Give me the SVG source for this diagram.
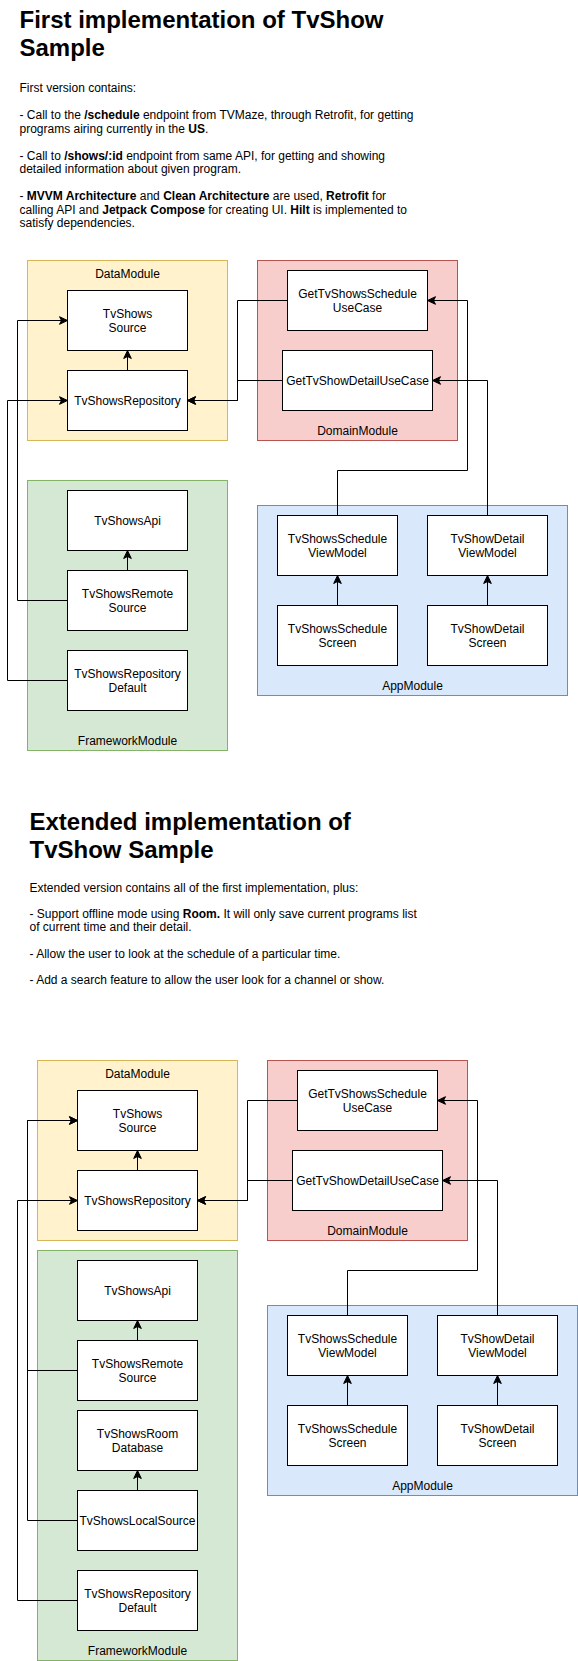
<svg xmlns="http://www.w3.org/2000/svg" width="578" height="1661" viewBox="0 0 578 1661">
<defs>
<marker id="arr" markerUnits="userSpaceOnUse" markerWidth="12" markerHeight="12" viewBox="-10 -6 12 12" refX="0" refY="0" orient="auto">
<path d="M0,0 L-8,-3.8 L-6,0 L-8,3.8 Z" fill="#000" stroke="#000" stroke-width="1" stroke-linejoin="miter"/>
</marker>
</defs>
<style>
text{font-family:"Liberation Sans",Arial,Helvetica,sans-serif;fill:#000}
.t{font-size:24px;font-weight:bold}
.b{font-size:12px}
.bb{font-weight:bold}
.n{font-size:12px;text-anchor:middle}
.node{fill:#fff;stroke:#000;stroke-width:1}
.data{fill:#fff2cc;stroke:#d6b656}
.dom{fill:#f8cecc;stroke:#b85450}
.fw{fill:#d5e8d4;stroke:#82b366}
.app{fill:#dae8fc;stroke:#6c8ebf}
.c{fill:none;stroke:#000;stroke-width:1;marker-end:url(#arr)}
</style>

<g id="text1">
<text class="t" x="19.5" y="27.5">First implementation of TvShow</text>
<text class="t" x="19.5" y="56.3">Sample</text>
<text class="b" x="19.5" y="92.3">First version contains:</text>
<text class="b" x="19.5" y="119.3">- Call to the <tspan class="bb">/schedule</tspan> endpoint from TVMaze, through Retrofit, for getting</text>
<text class="b" x="19.5" y="132.8">programs airing currently in the <tspan class="bb">US</tspan>.</text>
<text class="b" x="19.5" y="159.8">- Call to <tspan class="bb">/shows/:id</tspan> endpoint from same API, for getting and showing</text>
<text class="b" x="19.5" y="173.3">detailed information about given program.</text>
<text class="b" x="19.5" y="200.3">- <tspan class="bb">MVVM Architecture</tspan> and <tspan class="bb">Clean Architecture</tspan> are used, <tspan class="bb">Retrofit</tspan> for</text>
<text class="b" x="19.5" y="213.8">calling API and <tspan class="bb">Jetpack Compose</tspan> for creating UI. <tspan class="bb">Hilt</tspan> is implemented to</text>
<text class="b" x="19.5" y="227.3">satisfy dependencies.</text>
</g>

<g id="dataModule1"><rect class="data" x="27.5" y="260.5" width="200" height="180"/><text class="n" x="127.5" y="278.3">DataModule</text></g>
<g id="domainModule1"><rect class="dom" x="257.5" y="260.5" width="200" height="180"/><text class="n" x="357.5" y="435.3">DomainModule</text></g>
<g id="frameworkModule1"><rect class="fw" x="27.5" y="480.5" width="200" height="270"/><text class="n" x="127.5" y="745">FrameworkModule</text></g>
<g id="appModule1"><rect class="app" x="257.5" y="505.5" width="310" height="190"/><text class="n" x="412.5" y="690.3">AppModule</text></g>

<g id="tvShowsSource1"><rect class="node" x="67.5" y="290.5" width="120" height="60"/><text class="n" x="127.5" y="317.6">TvShows</text><text class="n" x="127.5" y="332">Source</text></g>
<g id="tvShowsRepository1"><rect class="node" x="67.5" y="370.5" width="120" height="60"/><text class="n" x="127.5" y="404.7">TvShowsRepository</text></g>
<g id="scheduleUseCase1"><rect class="node" x="287.5" y="270.5" width="140" height="60"/><text class="n" x="357.5" y="297.6">GetTvShowsSchedule</text><text class="n" x="357.5" y="312">UseCase</text></g>
<g id="detailUseCase1"><rect class="node" x="282.5" y="350.5" width="150" height="60"/><text class="n" x="357.5" y="384.7">GetTvShowDetailUseCase</text></g>
<g id="tvShowsApi1"><rect class="node" x="67.5" y="490.5" width="120" height="60"/><text class="n" x="127.5" y="524.7">TvShowsApi</text></g>
<g id="tvShowsRemoteSource1"><rect class="node" x="67.5" y="570.5" width="120" height="60"/><text class="n" x="127.5" y="597.6">TvShowsRemote</text><text class="n" x="127.5" y="612">Source</text></g>
<g id="tvShowsRepositoryDefault1"><rect class="node" x="67.5" y="650.5" width="120" height="60"/><text class="n" x="127.5" y="677.6">TvShowsRepository</text><text class="n" x="127.5" y="692">Default</text></g>
<g id="scheduleViewModel1"><rect class="node" x="277.5" y="515.5" width="120" height="60"/><text class="n" x="337.5" y="542.6">TvShowsSchedule</text><text class="n" x="337.5" y="557">ViewModel</text></g>
<g id="detailViewModel1"><rect class="node" x="427.5" y="515.5" width="120" height="60"/><text class="n" x="487.5" y="542.6">TvShowDetail</text><text class="n" x="487.5" y="557">ViewModel</text></g>
<g id="scheduleScreen1"><rect class="node" x="277.5" y="605.5" width="120" height="60"/><text class="n" x="337.5" y="632.6">TvShowsSchedule</text><text class="n" x="337.5" y="647">Screen</text></g>
<g id="detailScreen1"><rect class="node" x="427.5" y="605.5" width="120" height="60"/><text class="n" x="487.5" y="632.6">TvShowDetail</text><text class="n" x="487.5" y="647">Screen</text></g>

<g id="connectors1">
<path class="c" d="M127.5,370.5 V350.5"/>
<path class="c" d="M127.5,570.5 V550.5"/>
<path class="c" d="M67.5,600.5 H17.5 V320.5 H67.5"/>
<path class="c" d="M67.5,680.5 H7.5 V400.5 H67.5"/>
<path class="c" d="M287.5,300.5 H237.5 V400.5 H187.5"/>
<path class="c" d="M282.5,380.5 H237.5 V400.5 H187.5"/>
<path class="c" d="M337.5,515.5 V470.5 H467.5 V300.5 H427.5"/>
<path class="c" d="M487.5,515.5 V380.5 H432.5"/>
<path class="c" d="M337.5,605.5 V575.5"/>
<path class="c" d="M487.5,605.5 V575.5"/>
</g>

<g id="text2">
<text class="t" x="29.5" y="829.5">Extended implementation of</text>
<text class="t" x="29.5" y="858.3">TvShow Sample</text>
<text class="b" x="29.5" y="891.7">Extended version contains all of the first implementation, plus:</text>
<text class="b" x="29.5" y="918.1">- Support offline mode using <tspan class="bb">Room.</tspan> It will only save current programs list</text>
<text class="b" x="29.5" y="931.3">of current time and their detail.</text>
<text class="b" x="29.5" y="957.7">- Allow the user to look at the schedule of a particular time.</text>
<text class="b" x="29.5" y="984.1">- Add a search feature to allow the user look for a channel or show.</text>
</g>

<g id="dataModule2"><rect class="data" x="37.5" y="1060.5" width="200" height="180"/><text class="n" x="137.5" y="1078.3">DataModule</text></g>
<g id="domainModule2"><rect class="dom" x="267.5" y="1060.5" width="200" height="180"/><text class="n" x="367.5" y="1235.3">DomainModule</text></g>
<g id="frameworkModule2"><rect class="fw" x="37.5" y="1250.5" width="200" height="410"/><text class="n" x="137.5" y="1655">FrameworkModule</text></g>
<g id="appModule2"><rect class="app" x="267.5" y="1305.5" width="310" height="190"/><text class="n" x="422.5" y="1490.3">AppModule</text></g>

<g id="tvShowsSource2"><rect class="node" x="77.5" y="1090.5" width="120" height="60"/><text class="n" x="137.5" y="1117.6">TvShows</text><text class="n" x="137.5" y="1132">Source</text></g>
<g id="tvShowsRepository2"><rect class="node" x="77.5" y="1170.5" width="120" height="60"/><text class="n" x="137.5" y="1204.7">TvShowsRepository</text></g>
<g id="scheduleUseCase2"><rect class="node" x="297.5" y="1070.5" width="140" height="60"/><text class="n" x="367.5" y="1097.6">GetTvShowsSchedule</text><text class="n" x="367.5" y="1112">UseCase</text></g>
<g id="detailUseCase2"><rect class="node" x="292.5" y="1150.5" width="150" height="60"/><text class="n" x="367.5" y="1184.7">GetTvShowDetailUseCase</text></g>
<g id="tvShowsApi2"><rect class="node" x="77.5" y="1260.5" width="120" height="60"/><text class="n" x="137.5" y="1294.7">TvShowsApi</text></g>
<g id="tvShowsRemoteSource2"><rect class="node" x="77.5" y="1340.5" width="120" height="60"/><text class="n" x="137.5" y="1367.6">TvShowsRemote</text><text class="n" x="137.5" y="1382">Source</text></g>
<g id="tvShowsRoomDatabase2"><rect class="node" x="77.5" y="1410.5" width="120" height="60"/><text class="n" x="137.5" y="1437.6">TvShowsRoom</text><text class="n" x="137.5" y="1452">Database</text></g>
<g id="tvShowsLocalSource2"><rect class="node" x="77.5" y="1490.5" width="120" height="60"/><text class="n" x="137.5" y="1524.7">TvShowsLocalSource</text></g>
<g id="tvShowsRepositoryDefault2"><rect class="node" x="77.5" y="1570.5" width="120" height="60"/><text class="n" x="137.5" y="1597.6">TvShowsRepository</text><text class="n" x="137.5" y="1612">Default</text></g>
<g id="scheduleViewModel2"><rect class="node" x="287.5" y="1315.5" width="120" height="60"/><text class="n" x="347.5" y="1342.6">TvShowsSchedule</text><text class="n" x="347.5" y="1357">ViewModel</text></g>
<g id="detailViewModel2"><rect class="node" x="437.5" y="1315.5" width="120" height="60"/><text class="n" x="497.5" y="1342.6">TvShowDetail</text><text class="n" x="497.5" y="1357">ViewModel</text></g>
<g id="scheduleScreen2"><rect class="node" x="287.5" y="1405.5" width="120" height="60"/><text class="n" x="347.5" y="1432.6">TvShowsSchedule</text><text class="n" x="347.5" y="1447">Screen</text></g>
<g id="detailScreen2"><rect class="node" x="437.5" y="1405.5" width="120" height="60"/><text class="n" x="497.5" y="1432.6">TvShowDetail</text><text class="n" x="497.5" y="1447">Screen</text></g>

<g id="connectors2">
<path class="c" d="M137.5,1170.5 V1150.5"/>
<path class="c" d="M137.5,1340.5 V1320.5"/>
<path class="c" d="M137.5,1490.5 V1470.5"/>
<path class="c" d="M77.5,1370.5 H27.5 V1120.5 H77.5"/>
<path class="c" d="M77.5,1520.5 H27.5 V1120.5 H77.5"/>
<path class="c" d="M77.5,1600.5 H17.5 V1200.5 H77.5"/>
<path class="c" d="M297.5,1100.5 H247.5 V1200.5 H197.5"/>
<path class="c" d="M292.5,1180.5 H247.5 V1200.5 H197.5"/>
<path class="c" d="M347.5,1315.5 V1270.5 H477.5 V1100.5 H437.5"/>
<path class="c" d="M497.5,1315.5 V1180.5 H442.5"/>
<path class="c" d="M347.5,1405.5 V1375.5"/>
<path class="c" d="M497.5,1405.5 V1375.5"/>
</g>
</svg>
